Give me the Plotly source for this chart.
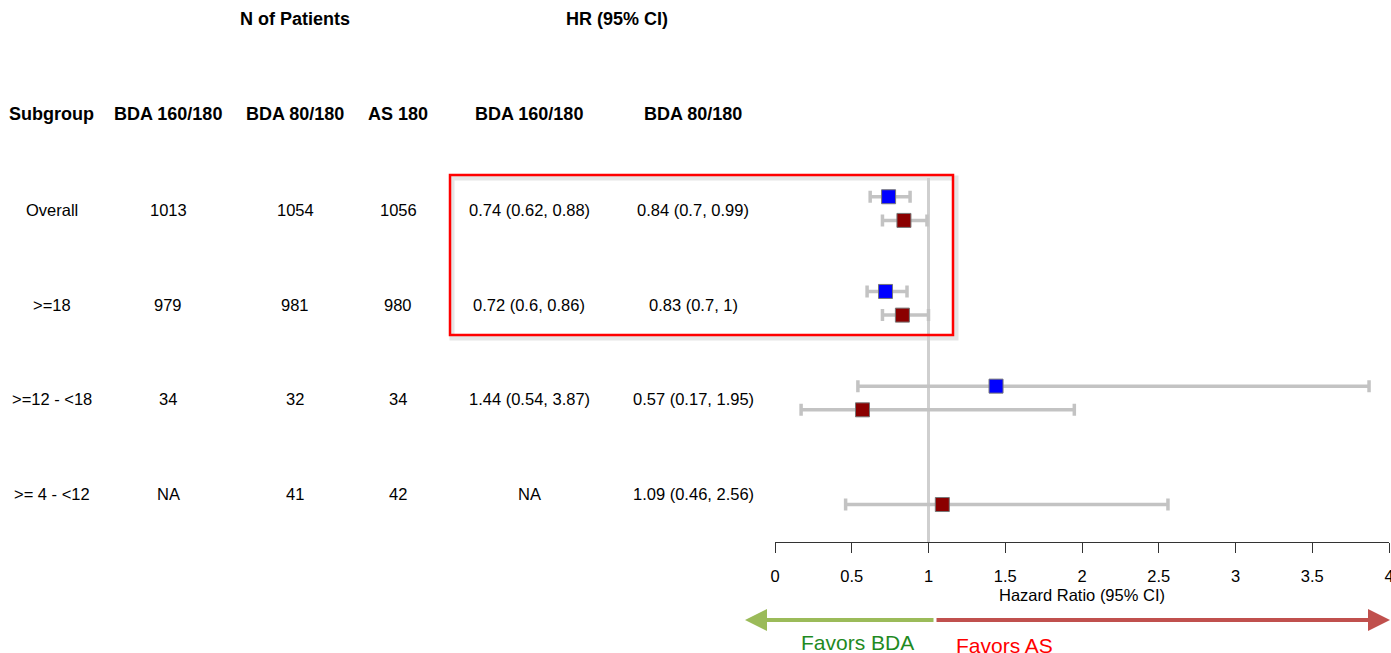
import plotly.graph_objects as go

W, H = 1391, 653

subgroups = ["Overall", ">=18", ">=12 - <18", ">= 4 - <12"]
n_bda160 = ["1013", "979", "34", "NA"]
n_bda80 = ["1054", "981", "32", "41"]
n_as180 = ["1056", "980", "34", "42"]

hr_bda160 = [0.74, 0.72, 1.44, None]
lo_bda160 = [0.62, 0.6, 0.54, None]
hi_bda160 = [0.88, 0.86, 3.87, None]
txt_bda160 = ["0.74 (0.62, 0.88)", "0.72 (0.6, 0.86)", "1.44 (0.54, 3.87)", "NA"]

hr_bda80 = [0.84, 0.83, 0.57, 1.09]
lo_bda80 = [0.7, 0.7, 0.17, 0.46]
hi_bda80 = [0.99, 1.0, 1.95, 2.56]
txt_bda80 = ["0.84 (0.7, 0.99)", "0.83 (0.7, 1)", "0.57 (0.17, 1.95)", "1.09 (0.46, 2.56)"]

col_headers = ["Subgroup", "BDA 160/180", "BDA 80/180", "AS 180", "BDA 160/180", "BDA 80/180"]
top_headers = ["N of Patients", "HR (95% CI)"]
xticks = [0, 0.5, 1, 1.5, 2, 2.5, 3, 3.5, 4]

FONT = "Liberation Sans, Arial, sans-serif"

# layout helpers (pixel -> row units)
row0_px, row_step = 210, 94.7
axis_px = 542
def px_to_row(p):
    return (p - row0_px) / row_step

rows = list(range(len(subgroups)))
off_blue, off_red = -0.14, 0.11

fig = go.Figure()

# reference line at HR = 1
fig.add_shape(type="line", xref="x", yref="y", x0=1, x1=1,
              y0=px_to_row(178), y1=px_to_row(axis_px + 3),
              line=dict(color="#cfcfcf", width=3), layer="below")

def series(hr, lo, hi, off, color):
    xs, ys, ep, em = [], [], [], []
    for i, (h, l, u) in enumerate(zip(hr, lo, hi)):
        if h is None:
            continue
        xs.append(h); ys.append(i + off); ep.append(u - h); em.append(h - l)
    fig.add_trace(go.Scatter(
        x=xs, y=ys, mode="markers",
        marker=dict(symbol="square", size=14, color=color,
                    line=dict(color="#777777", width=1)),
        error_x=dict(type="data", array=ep, arrayminus=em, symmetric=False,
                     color="#c3c3c3", thickness=3.5, width=6),
        showlegend=False, hoverinfo="x", cliponaxis=False))

series(hr_bda160, lo_bda160, hi_bda160, off_blue, "#0000ff")
series(hr_bda80, lo_bda80, hi_bda80, off_red, "#8b0000")

ann = []
col_x = [52, 168, 295, 398, 529, 693]
cols = [subgroups, n_bda160, n_bda80, n_as180, txt_bda160, txt_bda80]
for cx, vals in zip(col_x, cols):
    for r, v in zip(rows, vals):
        ann.append(dict(xref="paper", yref="y", x=cx / W, y=r, text=v,
                        showarrow=False, xanchor="center", yanchor="middle",
                        font=dict(size=16.5, color="#000000", family=FONT)))
for cx, t in zip(col_x, col_headers):
    ann.append(dict(xref="paper", yref="y", x=cx / W, y=px_to_row(114),
                    text="<b>%s</b>" % t, showarrow=False, xanchor="center",
                    yanchor="middle", font=dict(size=18, color="#000000", family=FONT)))
for cx, t in zip([295, 617], top_headers):
    ann.append(dict(xref="paper", yref="y", x=cx / W, y=px_to_row(19),
                    text="<b>%s</b>" % t, showarrow=False, xanchor="center",
                    yanchor="middle", font=dict(size=18, color="#000000", family=FONT)))

# favors arrows
arrow_y = 1 - 620 / H
ann.append(dict(xref="paper", yref="paper", x=745 / W, y=arrow_y, ax=190, ay=0,
                text="", showarrow=True, arrowhead=2, arrowsize=1.1, arrowwidth=4,
                arrowcolor="#9bbb59"))
ann.append(dict(xref="paper", yref="paper", x=1391 / W, y=arrow_y, ax=-456, ay=0,
                text="", showarrow=True, arrowhead=2, arrowsize=1.1, arrowwidth=4,
                arrowcolor="#c0504d"))
ann.append(dict(xref="paper", yref="paper", x=857 / W, y=1 - 642 / H,
                text="Favors BDA", showarrow=False, xanchor="center", yanchor="middle",
                font=dict(size=21, color="#1f8a1f", family=FONT)))
ann.append(dict(xref="paper", yref="paper", x=1004 / W, y=1 - 645 / H,
                text="Favors AS", showarrow=False, xanchor="center", yanchor="middle",
                font=dict(size=21, color="#ff0000", family=FONT)))

shapes = [
    # soft shadow
    dict(type="rect", xref="paper", yref="paper",
         x0=452 / W, x1=956 / W, y0=1 - 338 / H, y1=1 - 178 / H,
         line=dict(color="rgba(0,0,0,0.10)", width=5), layer="below"),
    dict(type="rect", xref="paper", yref="paper",
         x0=450 / W, x1=953 / W, y0=1 - 335 / H, y1=1 - 175 / H,
         line=dict(color="#ff0000", width=2.5)),
]
for s in shapes:
    fig.add_shape(**s)

fig.update_layout(
    width=W, height=H, autosize=False,
    margin=dict(l=0, r=0, t=0, b=0),
    paper_bgcolor="white", plot_bgcolor="white",
    annotations=ann,
    xaxis=dict(domain=[775 / W, 1389 / W], range=[0, 4], tickvals=xticks,
               ticktext=[("%g" % v) for v in xticks],
               showline=True, linecolor="#333333", linewidth=1,
               ticks="outside", ticklen=10, tickcolor="#333333",
               showgrid=False, zeroline=False, ticklabeloverflow="allow",
               automargin=False, ticklabelstandoff=9,
               tickfont=dict(size=16.5, color="#000000", family=FONT),
               title=dict(text="Hazard Ratio (95% CI)", standoff=5,
                          font=dict(size=16.5, color="#000000", family=FONT))),
    yaxis=dict(domain=[1 - axis_px / H, 1], range=[px_to_row(axis_px), px_to_row(0)],
               visible=False, showgrid=False, zeroline=False, automargin=False),
)

fig.write_html("out.html", config={"displayModeBar": False},
               post_script="document.body.style.margin='0';document.body.style.overflow='hidden';")
